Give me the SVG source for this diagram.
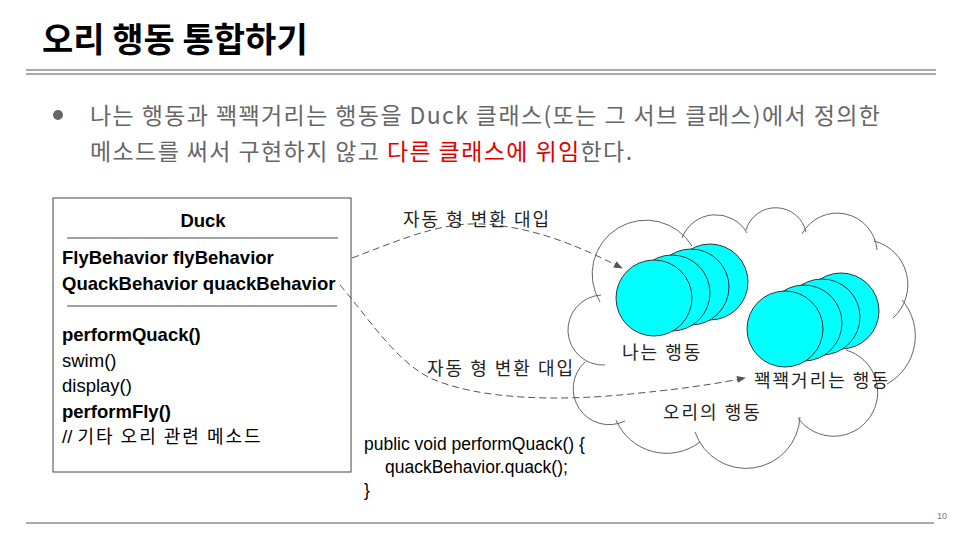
<svg xmlns="http://www.w3.org/2000/svg" width="960" height="540" viewBox="0 0 960 540">
<defs>
<style>
.title{font-family:"Noto Sans CJK KR","Liberation Sans",sans-serif;font-weight:bold;font-size:34px;fill:#000}
.body{font-family:"Noto Sans CJK KR","Liberation Sans",sans-serif;font-size:23px;letter-spacing:1.4px;fill:#666}
.red{fill:#e00000}
.uml{font-family:"Liberation Sans","Noto Sans CJK KR",sans-serif;font-size:18.5px;fill:#000}
.b{font-weight:bold}
.kr{font-family:"Noto Sans CJK KR","Liberation Sans",sans-serif;font-size:18px;letter-spacing:2px;fill:#222}
.code{font-family:"Liberation Sans",sans-serif;font-size:17.5px;fill:#000}
.rule{stroke:#555;stroke-width:1.2;fill:none}
.conn{stroke:#555;stroke-width:1;fill:none;stroke-dasharray:7,4}
.lobe{fill:none;stroke:#666;stroke-width:1}
.ball{fill:#00ffff;stroke:#333;stroke-width:1}
</style>
<marker id="arr" viewBox="0 0 10 10" refX="9" refY="5" markerWidth="9" markerHeight="9" orient="auto" markerUnits="userSpaceOnUse">
<path d="M0,1 L10,5 L0,9 z" fill="#555"/>
</marker>
</defs>
<rect width="960" height="540" fill="#fff"/>

<g id="header">
<text class="title" x="42" y="52">오리 행동 통합하기</text>
<line class="rule" x1="26" y1="70" x2="936" y2="70"/>
<line class="rule" x1="26" y1="74" x2="936" y2="74"/>
</g>

<g id="bullet">
<circle cx="58" cy="115" r="5" fill="#666"/>
<text class="body" x="90" y="124">나는 행동과 꽥꽥거리는 행동을 Duck 클래스(또는 그 서브 클래스)에서 정의한</text>
<text class="body" x="90" y="160">메소드를 써서 구현하지 않고 <tspan class="red">다른 클래스에 위임</tspan>한다.</text>
</g>

<g id="duck">
<rect x="53" y="198" width="298" height="274" fill="#fff" stroke="#444" stroke-width="1"/>
<text class="uml b" x="203" y="227" text-anchor="middle">Duck</text>
<line x1="67" y1="238" x2="338" y2="238" stroke="#444" stroke-width="1"/>
<text class="uml b" x="62" y="264">FlyBehavior flyBehavior</text>
<text class="uml b" x="62" y="290">QuackBehavior quackBehavior</text>
<line x1="67" y1="306" x2="337" y2="306" stroke="#444" stroke-width="1"/>
<text class="uml b" x="62" y="341">performQuack()</text>
<text class="uml" x="62" y="367">swim()</text>
<text class="uml" x="62" y="392">display()</text>
<text class="uml b" x="62" y="418">performFly()</text>
<text class="uml" x="62" y="443">// <tspan style="font-family:'Noto Sans CJK KR',sans-serif;font-size:18px;letter-spacing:2px">기타 오리 관련 메소드</tspan></text>
</g>

<g id="cloud">
<path class="lobe" d="M600,302 A53,53 0 0 1 692,246"/>
<path class="lobe" d="M682,238 A36,36 0 0 1 747,233"/>
<path class="lobe" d="M746,230 A31,31 0 0 1 806,232"/>
<path class="lobe" d="M802,234 A40,40 0 0 1 877,250"/>
<path class="lobe" d="M874,241 A45,45 0 0 1 893,318"/>
<path class="lobe" d="M902,300 A55,55 0 0 1 887,384"/>
<path class="lobe" d="M846,350 A44,44 0 1 1 798,418"/>
<path class="lobe" d="M800,417 A54,54 0 0 1 695,432"/>
<path class="lobe" d="M700,442 A55,55 0 0 1 616,420"/>
<path class="lobe" d="M625,421 A36,36 0 0 1 585,362"/>
<path class="lobe" d="M605,365 A35,35 0 0 1 601,295"/>
</g>

<g id="fly-behaviors">
<circle class="ball" cx="710" cy="282" r="38"/>
<circle class="ball" cx="691" cy="287" r="38"/>
<circle class="ball" cx="672" cy="293" r="38"/>
<circle class="ball" cx="654" cy="298" r="38"/>
<text class="kr" x="622" y="359">나는 행동</text>
</g>

<g id="quack-behaviors">
<circle class="ball" cx="841" cy="311" r="38"/>
<circle class="ball" cx="822" cy="317" r="38"/>
<circle class="ball" cx="804" cy="323" r="38"/>
<circle class="ball" cx="785" cy="329" r="38"/>
<text class="kr" x="754" y="387">꽥꽥거리는 행동</text>
</g>

<g id="cloud-label">
<text class="kr" x="663" y="419">오리의 행동</text>
</g>

<g id="connectors">
<path class="conn" d="M352,258 C400,240 440,222 482,224 C540,227 590,252 622,268" marker-end="url(#arr)"/>
<path class="conn" d="M340,285 C370,320 395,360 430,378 C480,400 560,402 640,393 C690,388 720,383 745,378" marker-end="url(#arr)"/>
<text class="kr" x="403" y="226">자동 형 변환 대입</text>
<text class="kr" x="427" y="375">자동 형 변환 대입</text>
</g>

<g id="code">
<text class="code" x="364" y="450">public void performQuack() {</text>
<text class="code" x="385" y="473">quackBehavior.quack();</text>
<text class="code" x="364" y="496">}</text>
</g>

<g id="footer">
<line x1="26" y1="523" x2="934" y2="523" stroke="#555" stroke-width="1"/>
<text x="937" y="519" font-family="Liberation Sans, sans-serif" font-size="9" fill="#777">10</text>
</g>
</svg>
